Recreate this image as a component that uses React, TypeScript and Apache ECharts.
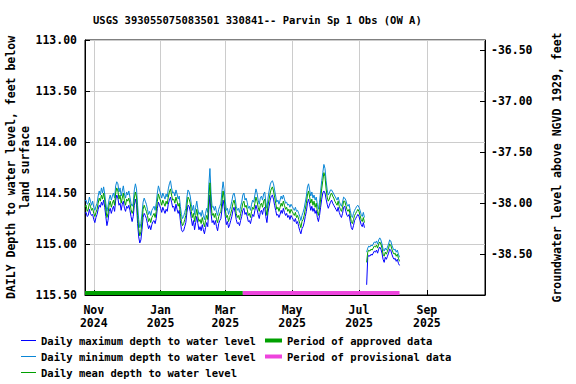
import React, { useEffect, useRef } from "react";
import * as echarts from "echarts";

const chartTitle = "USGS 393055075083501 330841-- Parvin Sp 1 Obs (OW A)";
const leftAxisName = "DAILY Depth to water level, feet below\nland surface";
const rightAxisName = "Groundwater level above NGVD 1929, feet";

const axisStart = "2024-10-24";
const axisEnd = "2025-10-24";
const firstDataDate = "2024-10-24";

const tickDates = ["2024-11-01", "2025-01-01", "2025-03-01", "2025-05-01", "2025-07-01", "2025-09-01"];
const tickLabels = ["Nov\n2024", "Jan\n2025", "Mar\n2025", "May\n2025", "Jul\n2025", "Sep\n2025"];

const depthMin = 113.0;
const depthMax = 115.5;
const depthStep = 0.5;
// groundwater level (NGVD 1929) = landSurfaceAltitude - depth
const landSurfaceAltitude = 76.6;

const approvedPeriod = ["2024-10-24", "2025-03-17"];
const provisionalPeriod = ["2025-03-17", "2025-08-07"];

const seriesNames = [
  "Daily maximum depth to water level",
  "Daily minimum depth to water level",
  "Daily mean depth to water level",
  "Period of approved data",
  "Period of provisional data",
];

// Daily values, feet below land surface, from 2024-10-24 (null = no data)
const dailyMean = [
  114.64, 114.62, 114.68, 114.66, 114.60, 114.63, 114.67, 114.65, 114.70, 114.73,
  114.69, 114.66, 114.60, 114.55, 114.58, 114.52, 114.56, 114.50, 114.57, 114.66,
  114.74, 114.70, 114.62, 114.58, 114.64, 114.60, 114.57, 114.62, 114.50, 114.45,
  114.48, 114.56, 114.52, 114.60, 114.55, 114.50, 114.58, 114.62, 114.56, 114.58,
  114.55, 114.60, 114.66, 114.70, 114.67, 114.55, 114.49, 114.54, 114.72, 114.85,
  114.92, 114.88, 114.78, 114.66, 114.62, 114.65, 114.68, 114.72, 114.78, 114.75,
  114.79, 114.74, 114.72, 114.70, 114.74, 114.68, 114.58, 114.51, 114.55, 114.58,
  114.62, 114.57, 114.60, 114.63, 114.58, 114.61, 114.54, 114.49, 114.46, 114.52,
  114.57, 114.56, 114.60, 114.54, 114.58, 114.63, 114.60, 114.70, 114.78, 114.82,
  114.80, 114.76, 114.72, 114.62, 114.54, 114.56, 114.60, 114.68, 114.74, 114.70,
  114.78, 114.72, 114.66, 114.73, 114.78, 114.76, 114.80, 114.74, 114.79, 114.83,
  114.77, 114.72, 114.76, 114.55, 114.40, 114.60, 114.72, 114.70, 114.74, 114.70,
  114.76, 114.79, 114.73, 114.70, 114.68, 114.58, 114.48, 114.55, 114.66, 114.74,
  114.72, 114.78, 114.74, 114.70, 114.66, 114.60, 114.57, 114.62, 114.70, 114.74,
  114.72, 114.76, 114.70, 114.66, 114.60, 114.58, 114.64, 114.62, 114.66, 114.72,
  114.70, 114.74, 114.68, 114.64, 114.66, 114.60, 114.54, 114.58, 114.64, 114.68,
  114.62, 114.60, 114.64, 114.58, 114.56, 114.66, 114.72, 114.62, 114.56, 114.50,
  114.46, 114.44, 114.48, 114.54, 114.60, 114.66, 114.64, 114.68, 114.64, 114.60,
  114.63, 114.58, 114.62, 114.66, 114.64, 114.68, 114.66, 114.70, 114.66, 114.68,
  114.70, 114.72, 114.69, 114.74, 114.72, 114.76, 114.80, 114.84, 114.78, 114.76,
  114.72, 114.66, 114.60, 114.52, 114.48, 114.54, 114.60, 114.56, 114.62, 114.58,
  114.64, 114.60, 114.68, 114.72, 114.66, 114.56, 114.46, 114.38, 114.30, 114.34,
  114.46, 114.54, 114.58, 114.56, 114.52, 114.50, 114.53, 114.55, 114.58, 114.60,
  114.62, 114.58, 114.63, 114.66, 114.68, 114.64, 114.58, 114.58, 114.62, 114.66,
  114.68, 114.66, 114.72, 114.78, 114.80, 114.76, 114.72, 114.70, 114.68, 114.66,
  114.68, 114.72, 114.76, 114.78, 114.74, 114.79, null,
  115.18, 115.08, 115.06, 115.07, 115.05, 115.06, 115.04, 115.02, 115.03, 115.01,
  115.04, 115.00, 114.98, 115.00, 115.04, 115.10, 115.12, 115.08, 115.10, 115.07,
  115.04, 115.00, 115.01, 115.05, 115.08, 115.10, 115.09, 115.12, 115.10, 115.14, 115.17,
];

const dailyMin = [
  114.58, 114.57, 114.61, 114.60, 114.54, 114.58, 114.62, 114.58, 114.64, 114.67,
  114.63, 114.60, 114.53, 114.48, 114.52, 114.45, 114.50, 114.44, 114.51, 114.60,
  114.68, 114.63, 114.56, 114.52, 114.57, 114.53, 114.50, 114.55, 114.43, 114.39,
  114.41, 114.49, 114.45, 114.53, 114.48, 114.43, 114.51, 114.55, 114.49, 114.52,
  114.48, 114.54, 114.60, 114.63, 114.60, 114.47, 114.41, 114.46, 114.62, 114.76,
  114.84, 114.80, 114.70, 114.59, 114.55, 114.58, 114.61, 114.66, 114.71, 114.68,
  114.72, 114.67, 114.65, 114.63, 114.67, 114.60, 114.50, 114.43, 114.47, 114.51,
  114.55, 114.50, 114.53, 114.56, 114.51, 114.54, 114.46, 114.41, 114.38, 114.45,
  114.50, 114.49, 114.53, 114.47, 114.51, 114.56, 114.53, 114.63, 114.71, 114.75,
  114.73, 114.69, 114.65, 114.54, 114.47, 114.49, 114.53, 114.61, 114.67, 114.62,
  114.71, 114.64, 114.58, 114.66, 114.71, 114.69, 114.73, 114.67, 114.72, 114.76,
  114.70, 114.65, 114.69, 114.42, 114.26, 114.50, 114.64, 114.63, 114.67, 114.63,
  114.69, 114.72, 114.66, 114.63, 114.60, 114.48, 114.39, 114.47, 114.58, 114.67,
  114.65, 114.71, 114.67, 114.63, 114.58, 114.52, 114.50, 114.55, 114.63, 114.67,
  114.65, 114.69, 114.63, 114.59, 114.52, 114.50, 114.57, 114.55, 114.59, 114.65,
  114.63, 114.67, 114.61, 114.57, 114.59, 114.52, 114.46, 114.50, 114.57, 114.61,
  114.55, 114.53, 114.57, 114.51, 114.49, 114.59, 114.65, 114.55, 114.48, 114.42,
  114.39, 114.38, 114.41, 114.47, 114.53, 114.59, 114.57, 114.61, 114.57, 114.53,
  114.56, 114.52, 114.56, 114.60, 114.59, 114.62, 114.61, 114.64, 114.61, 114.63,
  114.65, 114.67, 114.64, 114.68, 114.67, 114.70, 114.73, 114.77, 114.72, 114.69,
  114.65, 114.59, 114.53, 114.44, 114.41, 114.47, 114.53, 114.49, 114.55, 114.52,
  114.57, 114.54, 114.61, 114.66, 114.59, 114.48, 114.38, 114.30, 114.22, 114.26,
  114.38, 114.47, 114.52, 114.50, 114.47, 114.47, 114.49, 114.51, 114.53, 114.55,
  114.57, 114.54, 114.58, 114.61, 114.63, 114.59, 114.54, 114.55, 114.57, 114.61,
  114.63, 114.61, 114.67, 114.72, 114.74, 114.70, 114.67, 114.65, 114.63, 114.62,
  114.64, 114.67, 114.71, 114.73, 114.69, 114.74, null,
  115.08, 115.04, 115.02, 115.03, 115.01, 115.02, 115.00, 114.98, 114.99, 114.97,
  115.00, 114.96, 114.94, 114.96, 115.00, 115.05, 115.07, 115.04, 115.06, 115.03,
  115.00, 114.96, 114.97, 115.01, 115.04, 115.06, 115.05, 115.08, 115.06, 115.10, 115.13,
];

const dailyMax = [
  114.70, 114.69, 114.73, 114.72, 114.66, 114.70, 114.72, 114.71, 114.76, 114.79,
  114.74, 114.71, 114.66, 114.62, 114.64, 114.59, 114.62, 114.57, 114.64, 114.73,
  114.82, 114.77, 114.68, 114.65, 114.70, 114.66, 114.63, 114.68, 114.57, 114.52,
  114.55, 114.62, 114.60, 114.67, 114.61, 114.58, 114.65, 114.68, 114.63, 114.65,
  114.62, 114.67, 114.73, 114.78, 114.73, 114.62, 114.56, 114.61, 114.80, 114.93,
  114.99, 114.96, 114.86, 114.74, 114.70, 114.72, 114.75, 114.80, 114.85, 114.82,
  114.86, 114.81, 114.78, 114.77, 114.80, 114.75, 114.65, 114.59, 114.62, 114.65,
  114.69, 114.64, 114.67, 114.70, 114.66, 114.68, 114.61, 114.57, 114.54, 114.59,
  114.64, 114.63, 114.68, 114.61, 114.66, 114.70, 114.67, 114.77, 114.86, 114.88,
  114.87, 114.83, 114.79, 114.69, 114.62, 114.63, 114.68, 114.75, 114.82, 114.77,
  114.86, 114.79, 114.73, 114.80, 114.86, 114.83, 114.87, 114.81, 114.86, 114.90,
  114.84, 114.79, 114.83, 114.66, 114.52, 114.70, 114.79, 114.77, 114.81, 114.77,
  114.83, 114.87, 114.80, 114.77, 114.75, 114.66, 114.57, 114.63, 114.73, 114.81,
  114.78, 114.84, 114.81, 114.77, 114.73, 114.67, 114.64, 114.69, 114.76, 114.80,
  114.79, 114.82, 114.77, 114.73, 114.67, 114.65, 114.71, 114.69, 114.73, 114.78,
  114.77, 114.80, 114.75, 114.71, 114.73, 114.67, 114.62, 114.66, 114.71, 114.75,
  114.69, 114.67, 114.71, 114.65, 114.64, 114.73, 114.79, 114.69, 114.63, 114.57,
  114.53, 114.52, 114.56, 114.62, 114.67, 114.72, 114.71, 114.74, 114.71, 114.67,
  114.70, 114.65, 114.69, 114.72, 114.70, 114.74, 114.72, 114.76, 114.72, 114.74,
  114.76, 114.78, 114.75, 114.80, 114.78, 114.83, 114.87, 114.90, 114.85, 114.83,
  114.79, 114.73, 114.68, 114.60, 114.56, 114.61, 114.67, 114.63, 114.68, 114.65,
  114.70, 114.67, 114.74, 114.78, 114.72, 114.64, 114.56, 114.50, 114.48, 114.50,
  114.56, 114.61, 114.65, 114.62, 114.59, 114.57, 114.60, 114.62, 114.64, 114.66,
  114.68, 114.64, 114.69, 114.72, 114.74, 114.70, 114.64, 114.63, 114.68, 114.72,
  114.73, 114.71, 114.78, 114.84, 114.86, 114.82, 114.77, 114.75, 114.73, 114.71,
  114.73, 114.77, 114.81, 114.83, 114.79, 114.84, null,
  115.40, 115.13, 115.11, 115.12, 115.10, 115.11, 115.09, 115.07, 115.08, 115.06,
  115.09, 115.05, 115.03, 115.05, 115.09, 115.15, 115.18, 115.13, 115.15, 115.12,
  115.09, 115.05, 115.06, 115.10, 115.13, 115.15, 115.14, 115.17, 115.15, 115.19, 115.21,
];

const FONT = "'DejaVu Sans Mono', monospace";
const DAY_MS = 86400000;
const utc = (d: string) => Date.parse(d + "T00:00:00Z");

export default function App() {
  const ref = useRef<HTMLDivElement>(null);

  useEffect(() => {
    if (!ref.current) return;
    const chart = echarts.init(ref.current, null, { renderer: "svg" });
    const t0 = utc(firstDataDate);
    const pairs = (arr: (number | null)[]) => arr.map((v, i) => [t0 + i * DAY_MS, v]);
    const tickTimes = tickDates.map(utc);
    const barLevel = 115.48;

    const lineSeries = (name: string, data: (number | null)[], color: string) => ({
      name,
      type: "line",
      data: pairs(data),
      yAxisIndex: 0,
      symbol: "none",
      showSymbol: false,
      connectNulls: false,
      lineStyle: { color, width: 1 },
      itemStyle: { color },
      emphasis: { disabled: true },
    });
    const periodSeries = (name: string, period: string[], color: string) => ({
      name,
      type: "line",
      data: period.map((d) => [utc(d), barLevel]),
      yAxisIndex: 0,
      symbol: "none",
      showSymbol: false,
      lineStyle: { color, width: 4 },
      itemStyle: { color },
      emphasis: { disabled: true },
    });

    const labelStyle = { fontFamily: FONT, fontSize: 11.5, fontWeight: "bold", color: "#000" };
    const legendText = { fontFamily: FONT, fontSize: 10.5, fontWeight: "bold", color: "#000", lineHeight: 15 };

    chart.setOption({
      animation: false,
      backgroundColor: "#fff",
      textStyle: { fontFamily: FONT },
      title: {
        text: chartTitle,
        left: 88,
        top: 9,
        textStyle: { fontFamily: FONT, fontSize: 10.5, fontWeight: "bold", color: "#000" },
      },
      grid: {
        left: 85, right: 91, top: 40, bottom: 89,
        outerBoundsMode: "none",
        containLabel: false,
        show: true, borderColor: "#000", borderWidth: 1, backgroundColor: "#fff",
      },
      xAxis: {
        type: "value",
        min: utc(axisStart),
        max: utc(axisEnd),
        axisLine: { show: true, lineStyle: { color: "#000", width: 1 } },
        axisTick: { show: true, inside: true, length: 5, customValues: tickTimes, lineStyle: { color: "#000" } },
        axisLabel: {
          ...labelStyle,
          customValues: tickTimes,
          margin: 8,
          lineHeight: 13,
          formatter: (v: number) => {
            const idx = tickTimes.indexOf(v);
            return idx >= 0 ? tickLabels[idx] : "";
          },
        },
        splitLine: { show: true, lineStyle: { color: "#cccccc", width: 1 } },
      },
      yAxis: [
        {
          type: "value",
          position: "left",
          inverse: true,
          min: depthMin,
          max: depthMax,
          interval: depthStep,
          name: leftAxisName,
          nameLocation: "middle",
          nameRotate: 90,
          nameGap: 53,
          nameMoveOverlap: false,
          nameTextStyle: { ...labelStyle, lineHeight: 14 },
          axisLine: { show: true, lineStyle: { color: "#000" } },
          axisTick: { show: true, inside: true, length: 5, lineStyle: { color: "#000" } },
          axisLabel: { ...labelStyle, margin: 8, formatter: (v: number) => v.toFixed(2) },
          splitLine: { show: true, lineStyle: { color: "#cccccc", width: 1 } },
        },
        {
          type: "value",
          position: "right",
          min: landSurfaceAltitude - depthMax,
          max: landSurfaceAltitude - depthMin,
          splitNumber: 5,
          name: rightAxisName,
          nameLocation: "middle",
          nameRotate: 90,
          nameGap: 66,
          nameTextStyle: { ...labelStyle },
          axisLine: { show: true, lineStyle: { color: "#000" } },
          axisTick: { show: true, inside: true, length: 5, lineStyle: { color: "#000" } },
          axisLabel: { ...labelStyle, margin: 6, showMinLabel: false, showMaxLabel: false, formatter: (v: number) => v.toFixed(2) },
          splitLine: { show: false },
        },
      ],
      legend: [
        {
          left: 21,
          top: 333,
          padding: 0,
          orient: "vertical",
          icon: "rect",
          itemWidth: 15,
          itemHeight: 1,
          itemGap: 1,
          selectedMode: false,
          itemStyle: { borderWidth: 0 },
          data: seriesNames.slice(0, 3),
          textStyle: legendText,
        },
        {
          left: 265,
          top: 333,
          padding: 0,
          orient: "vertical",
          icon: "rect",
          itemWidth: 17,
          itemHeight: 4,
          itemGap: 1,
          selectedMode: false,
          itemStyle: { borderWidth: 0 },
          data: seriesNames.slice(3),
          textStyle: legendText,
        },
      ],
      series: [
        lineSeries(seriesNames[0], dailyMax, "#0000ff"),
        lineSeries(seriesNames[1], dailyMin, "#0a86d6"),
        lineSeries(seriesNames[2], dailyMean, "#00a000"),
        periodSeries(seriesNames[3], approvedPeriod, "#00a000"),
        periodSeries(seriesNames[4], provisionalPeriod, "#ee44dd"),
      ],
    });
    return () => chart.dispose();
  }, []);

  return <div ref={ref} style={{ position: "fixed", left: 0, top: 0, width: 576, height: 384 }} />;
}
